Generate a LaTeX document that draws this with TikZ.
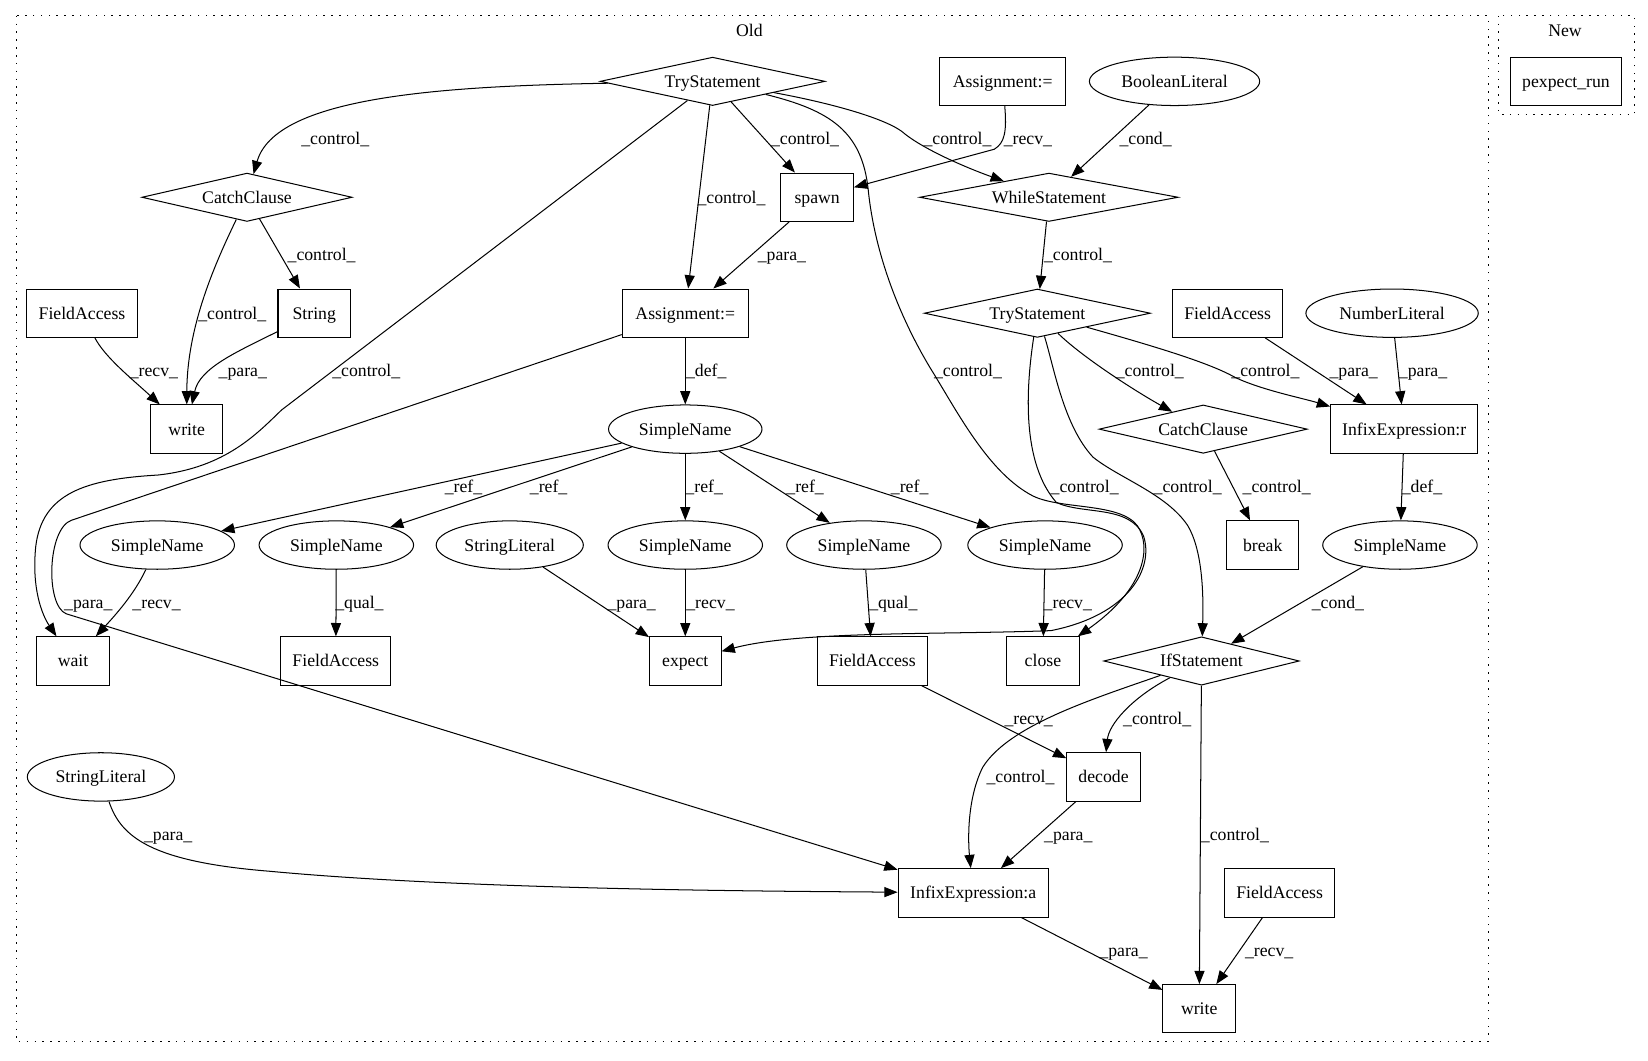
\documentclass[tikz,border=0pt]{standalone}
\usepackage{fontspec}
\setmainfont{Liberation Serif}
\usetikzlibrary{shapes.geometric,arrows.meta}
\begin{document}
\begin{tikzpicture}[x=0.83pt,y=-0.83pt,
  every node/.style={font=\fontsize{14pt}{16pt}\selectfont,text height=9.4pt,text depth=0pt},
  box/.style={draw,rectangle,line width=0.8pt,minimum height=38.2pt,minimum width={#1*0.83pt},inner sep=0pt},
  ell/.style={draw,ellipse,line width=0.8pt,minimum height=38.2pt,minimum width={#1*0.83pt},inner sep=0pt},
  dia/.style={draw,diamond,aspect=4.6,line width=0.8pt,minimum height=38.2pt,minimum width={#1*0.83pt},inner sep=0pt},
  arr/.style={line width=0.8pt,-{Triangle[length=10.5pt,width=8pt]}},
  lbl/.style={inner sep=0pt},
  cluster/.style={line width=0.9pt,dash pattern=on 1.2pt off 5pt}
]
\fill[white] (0,0) rectangle (1568,1009);
\useasboundingbox (0,0) rectangle (1568,1009);
% clusters
\draw[cluster] (15.4,15) rectangle (1416,991);
\node[lbl] (oldlbl) at (713,29) {Old};
\draw[cluster] (1426,15) rectangle (1555,109);
\node[lbl] (newlbl) at (1489,29) {New};
\node[box=106] (pexpect) at (1490,77.4) {pexpect\_run};
% row 1
\node[dia=214] (try1) at (678,77.4) {TryStatement};
\node[box=120] (asg1) at (954,77.4) {Assignment:=};
\node[ell=162] (bool) at (1117.5,77.4) {BooleanLiteral};
% row 2
\node[dia=200] (catch1) at (235,187.7) {CatchClause};
\node[box=69] (spawn) at (777.5,187.7) {spawn};
\node[dia=246] (while) at (998,187.7) {WhileStatement};
% row 3
\node[box=105] (fa1) at (78,298) {FieldAccess};
\node[box=69] (string) at (299,298) {String};
\node[box=120] (asg2) at (652,298) {Assignment:=};
\node[dia=215] (try2) at (987,298) {TryStatement};
\node[box=105] (fa2) at (1168,298) {FieldAccess};
\node[ell=164] (numlit) at (1324.5,298) {NumberLiteral};
% row 4
\node[box=69] (write1) at (177.6,408.3) {write};
\node[ell=146] (sn0) at (652,408.3) {SimpleName};
\node[dia=198] (catch2) at (1144.8,408.3) {CatchClause};
\node[box=140] (infr) at (1336,408.3) {InfixExpression:r};
% row 5
\node[ell=147] (sna) at (149.6,518.6) {SimpleName};
\node[ell=147] (snb) at (320,518.6) {SimpleName};
\node[ell=140] (strlit1) at (485,518.6) {StringLiteral};
\node[ell=147] (snc) at (652,518.6) {SimpleName};
\node[ell=147] (snd) at (822,518.6) {SimpleName};
\node[ell=147] (sne) at (994.3,518.6) {SimpleName};
\node[box=69] (brk) at (1201.4,518.6) {break};
\node[ell=147] (snf) at (1332,518.6) {SimpleName};
% row 6
\node[box=69] (wait) at (69.5,628.9) {wait};
\node[box=105] (fa3) at (319.5,628.9) {FieldAccess};
\node[box=68] (expect) at (652,628.9) {expect};
\node[box=105] (fa4) at (830,628.9) {FieldAccess};
\node[box=69] (close) at (992.3,628.9) {close};
\node[dia=186] (ifst) at (1143.2,628.9) {IfStatement};
% row 7
\node[ell=140] (strlit2) at (96,739.2) {StringLiteral};
\node[box=70] (decode) at (1050,739.2) {decode};
% row 8
\node[box=143] (infa) at (926,849.5) {InfixExpression:a};
\node[box=105] (fa5) at (1217.5,849.5) {FieldAccess};
% row 9
\node[box=69] (write2) at (1141,959.8) {write};

% edges
\draw[arr] (try1) .. controls (420,82) and (262,92) .. (catch1);
\draw[arr] (try1) -- (268,390) .. controls (245,412) and (215,445) .. (150,452) .. controls (80,456) and (40,470) .. (34,520) .. controls (30,560) and (40,585) .. (wait);
\draw[arr] (try1) -- (asg2);
\draw[arr] (try1) -- (spawn);
\draw[arr] (try1) .. controls (790,98) and (840,112) .. (858,125) .. controls (875,140) and (915,158) .. (while);
\draw[arr] (try1) .. controls (790,105) and (820,125) .. (826,180) .. controls (832,240) and (855,300) .. (885,350) .. controls (910,390) and (940,450) .. (983,472) .. controls (1010,485) and (1065,478) .. (1082,500) .. controls (1096,520) and (1090,560) .. (close);
\draw[arr] (asg1) .. controls (958,125) and (956,136) .. (946,142) -- (spawn);
\draw[arr] (bool) -- (while);
\draw[arr] (spawn) -- (asg2);
\draw[arr] (catch1) -- (string);
\draw[arr] (catch1) .. controls (205,250) and (178,310) .. (write1);
\draw[arr] (fa1) .. controls (100,340) and (125,360) .. (write1);
\draw[arr] (string) .. controls (225,335) and (190,350) .. (write1);
\draw[arr] (asg2) -- (68,495) .. controls (45,503) and (43,576) .. (63,584) -- (infa);
\draw[arr] (asg2) -- (sn0);
\draw[arr] (sn0) -- (sna);
\draw[arr] (sn0) -- (snb);
\draw[arr] (sn0) -- (snc);
\draw[arr] (sn0) -- (snd);
\draw[arr] (sn0) -- (sne);
\draw[arr] (sna) .. controls (128,565) and (110,585) .. (wait);
\draw[arr] (snb) -- (fa3);
\draw[arr] (strlit1) -- (expect);
\draw[arr] (snc) -- (expect);
\draw[arr] (snd) -- (fa4);
\draw[arr] (sne) -- (close);
\draw[arr] (while) -- (try2);
\draw[arr] (try2) .. controls (1030,340) and (1080,372) .. (catch2);
\draw[arr] (try2) .. controls (1100,330) and (1150,345) .. (1175,359) .. controls (1200,371) and (1240,379) .. (infr);
\draw[arr] (fa2) -- (infr);
\draw[arr] (numlit) -- (infr);
\draw[arr] (try2) .. controls (976,370) and (972,440) .. (1005,478) .. controls (1030,490) and (1075,480) .. (1088,510) .. controls (1098,540) and (1075,585) .. (1000,600) .. controls (900,604) and (760,600) .. (expect);
\draw[arr] (try2) .. controls (1003,350) and (1012,405) .. (1040,435) .. controls (1065,455) and (1110,470) .. (1130,500) .. controls (1145,525) and (1145,570) .. (ifst);
\draw[arr] (catch2) -- (brk);
\draw[arr] (infr) -- (snf);
\draw[arr] (snf) -- (ifst);
\draw[arr] (fa4) -- (decode);
\draw[arr] (ifst) .. controls (1075,665) and (1055,690) .. (decode);
\draw[arr] (ifst) .. controls (1040,665) and (960,690) .. (935,730) .. controls (920,760) and (921,800) .. (infa);
\draw[arr] (ifst) -- (write2);
\draw[arr] (decode) -- (infa);
\draw[arr] (strlit2) .. controls (115,797) and (145,820) .. (257,829) .. controls (450,847) and (750,848) .. (infa);
\draw[arr] (infa) -- (write2);
\draw[arr] (fa5) -- (write2);

% edge labels
\node[lbl] (l1) at (319,132) {\_control\_};
\node[lbl] (l2) at (348.5,352.5) {\_control\_};
\node[lbl] (l3) at (696,187.7) {\_control\_};
\node[lbl] (l4) at (766,132) {\_control\_};
\node[lbl] (l5) at (911,132) {\_control\_};
\node[lbl] (l6) at (921,352.5) {\_control\_};
\node[lbl] (l7) at (978,132) {\_recv\_};
\node[lbl] (l8) at (1090,132) {\_cond\_};
\node[lbl] (l9) at (744,242.5) {\_para\_};
\node[lbl] (l10) at (306,242.5) {\_control\_};
\node[lbl] (l11) at (221,298) {\_control\_};
\node[lbl] (l12) at (146.5,352.5) {\_recv\_};
\node[lbl] (l13) at (231,352.5) {\_para\_};
\node[lbl] (l14) at (672,352.5) {\_def\_};
\node[lbl] (l15) at (84,573) {\_para\_};
\node[lbl] (l16) at (441,462.8) {\_ref\_};
\node[lbl] (l17) at (522,462.8) {\_ref\_};
\node[lbl] (l18) at (670,462.8) {\_ref\_};
\node[lbl] (l19) at (766,462.8) {\_ref\_};
\node[lbl] (l20) at (865.5,462.8) {\_ref\_};
\node[lbl] (l21) at (149,573) {\_recv\_};
\node[lbl] (l22) at (342,573) {\_qual\_};
\node[lbl] (l23) at (601,573) {\_para\_};
\node[lbl] (l24) at (676,573) {\_recv\_};
\node[lbl] (l25) at (850,573) {\_qual\_};
\node[lbl] (l26) at (1016,573) {\_recv\_};
\node[lbl] (l27) at (1025.7,242.5) {\_control\_};
\node[lbl] (l28) at (1094,352.5) {\_control\_};
\node[lbl] (l29) at (1204,352.5) {\_control\_};
\node[lbl] (l30) at (1288,352.5) {\_para\_};
\node[lbl] (l31) at (1354,352.5) {\_para\_};
\node[lbl] (l32) at (1032,462.8) {\_control\_};
\node[lbl] (l33) at (1130,462.8) {\_control\_};
\node[lbl] (l34) at (1214.7,462.8) {\_control\_};
\node[lbl] (l35) at (1353,462.8) {\_def\_};
\node[lbl] (l36) at (1273,573) {\_cond\_};
\node[lbl] (l37) at (978.7,683.5) {\_recv\_};
\node[lbl] (l38) at (1101,683.5) {\_control\_};
\node[lbl] (l39) at (971,739.2) {\_control\_};
\node[lbl] (l40) at (1175,793.8) {\_control\_};
\node[lbl] (l41) at (1016.4,793.8) {\_para\_};
\node[lbl] (l42) at (160,793.8) {\_para\_};
\node[lbl] (l43) at (1069,904) {\_para\_};
\node[lbl] (l44) at (1207.5,904) {\_recv\_};
\end{tikzpicture}
\end{document}
